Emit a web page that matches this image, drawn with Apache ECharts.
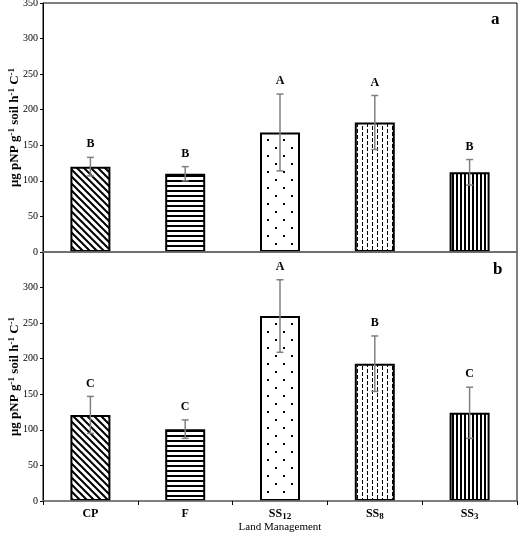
<!DOCTYPE html>
<html>
<head>
<meta charset="utf-8">
<script src="https://cdn.jsdelivr.net/npm/echarts@6/dist/echarts.min.js"></script>
<style>
html,body{margin:0;padding:0;background:#fff;}
#c{width:518px;height:540px;}
</style>
</head>
<body>
<div id="c"></div>
<script>
// ---- data ----
var categories = ['CP', 'F', 'SS12', 'SS8', 'SS3'];
var categoryLabels = ['CP', 'F', 'SS{sub|12}', 'SS{sub|8}', 'SS{sub|3}'];
var yTicks = [0, 50, 100, 150, 200, 250, 300, 350];
var meanA = [120, 110, 168, 182, 112];
var errA = [13, 10, 54, 38, 18];
var lettersA = ['B', 'B', 'A', 'A', 'B'];
var meanB = [121, 101, 260, 193, 124];
var errB = [26, 13, 51, 39, 36];
var lettersB = ['C', 'C', 'A', 'B', 'C'];
var panelLabels = ['a', 'b'];
var xTitle = 'Land Management';

// ---- patterns ----
function mk(w, h, draw) {
  var c = document.createElement('canvas');
  c.width = w; c.height = h;
  var g = c.getContext('2d');
  g.fillStyle = '#fff'; g.fillRect(0, 0, w, h);
  g.fillStyle = '#000'; g.strokeStyle = '#000';
  draw(g);
  return { image: c, repeat: 'repeat' };
}
var patterns = [
  mk(7, 7, function (g) { // diagonal "\"
    g.lineWidth = 2;
    g.beginPath();
    g.moveTo(-1, -1); g.lineTo(8, 8);
    g.moveTo(-8, -1); g.lineTo(1, 8);
    g.moveTo(6, -1); g.lineTo(15, 8);
    g.stroke();
  }),
  mk(5, 5, function (g) { g.fillRect(0, 0, 5, 2); }), // horizontal
  mk(16, 16, function (g) { g.fillRect(3, 3, 2, 2); g.fillRect(11, 11, 2, 2); }), // dots
  mk(10, 6, function (g) { g.fillRect(2, 0, 1, 4); g.fillRect(7, 3, 1, 3); g.fillRect(7, 0, 1, 1); }), // dashed vertical
  mk(4, 4, function (g) { g.fillRect(0, 0, 2, 4); }) // vertical
];

var serif = '"Liberation Serif", "Times New Roman", serif';

function barSeries(means, idx) {
  return {
    type: 'bar',
    xAxisIndex: idx, yAxisIndex: idx,
    barWidth: 40,
    data: means.map(function (v, i) {
      return { value: v, itemStyle: { color: patterns[i], borderColor: '#000', borderWidth: 2 } };
    }),
    z: 2
  };
}
function errSeries(means, errs, letters, idx) {
  return {
    type: 'custom',
    xAxisIndex: idx, yAxisIndex: idx,
    z: 5,
    data: means.map(function (v, i) { return [i, v, errs[i]]; }),
    renderItem: function (params, api) {
      var i = api.value(0), m = api.value(1), e = api.value(2);
      var top = api.coord([i, m + e]);
      var bot = api.coord([i, m - e]);
      var x = top[0], cw = 3.5;
      var st = { stroke: '#808080', lineWidth: 1.5 };
      return {
        type: 'group',
        children: [
          { type: 'line', shape: { x1: x, y1: top[1], x2: x, y2: bot[1] }, style: st },
          { type: 'line', shape: { x1: x - cw, y1: top[1], x2: x + cw, y2: top[1] }, style: st },
          { type: 'line', shape: { x1: x - cw, y1: bot[1], x2: x + cw, y2: bot[1] }, style: st },
          { type: 'text', x: x, y: top[1] - 13,
            style: { text: letters[params.dataIndex], fill: '#000', font: 'bold 12px ' + serif,
                     align: 'center', verticalAlign: 'middle' } }
        ]
      };
    }
  };
}

var yName = 'μg pNP g{s|-1} soil h{s|-1} C{s|-1}';
function yAxis(idx) {
  return {
    type: 'value', gridIndex: idx,
    min: yTicks[0], max: yTicks[yTicks.length - 1], interval: 50,
    name: yName, nameLocation: 'middle', nameGap: 20, nameMoveOverlap: false,
    nameTextStyle: {
      fontFamily: serif, fontWeight: 'bold', fontSize: 13, color: '#000', lineHeight: 16,
      rich: { s: { fontFamily: serif, fontWeight: 'bold', fontSize: 9, lineHeight: 9, verticalAlign: 'top', color: '#000' } }
    },
    axisLine: { show: true, lineStyle: { color: '#000', width: 1 } },
    axisTick: { show: true, length: 3, lineStyle: { color: '#000' } },
    axisLabel: { fontFamily: serif, fontSize: 10, color: '#000', margin: 5, showMaxLabel: idx === 0 },
    splitLine: { show: false }
  };
}

var chart = echarts.init(document.getElementById('c'));
chart.setOption({
  animation: false,
  backgroundColor: '#fff',
  grid: [
    { left: 43, right: 1, top: 3, height: 249, outerBoundsMode: 'none', containLabel: false,
      show: true, borderColor: '#000', borderWidth: 1, backgroundColor: 'transparent' },
    { left: 43, right: 1, top: 252, bottom: 39, outerBoundsMode: 'none', containLabel: false,
      show: true, borderColor: '#000', borderWidth: 1, backgroundColor: 'transparent' }
  ],
  xAxis: [
    { type: 'category', gridIndex: 0, data: categories, z: 6,
      axisLine: { show: true, lineStyle: { color: '#808080', width: 1.5 } },
      axisTick: { show: false }, axisLabel: { show: false } },
    { type: 'category', gridIndex: 1, data: categories, z: 6,
      name: xTitle, nameLocation: 'middle', nameGap: 21, nameMoveOverlap: false,
      nameTextStyle: { fontFamily: serif, fontSize: 11, color: '#000' },
      axisLine: { show: true, lineStyle: { color: '#808080', width: 1.5 } },
      axisTick: { show: true, length: 4, lineStyle: { color: '#000' } },
      axisLabel: {
        margin: 6, color: '#000', fontFamily: serif, fontWeight: 'bold', fontSize: 12, lineHeight: 14,
        formatter: function (v, i) { return categoryLabels[i]; },
        rich: { sub: { fontFamily: serif, fontSize: 9, lineHeight: 9, verticalAlign: 'bottom', color: '#000' } }
      } }
  ],
  yAxis: [yAxis(0), yAxis(1)],
  graphic: [
    { type: 'text', left: 491, top: 11, style: { text: panelLabels[0], font: 'bold 17px ' + serif, fill: '#000' } },
    { type: 'text', left: 493, top: 261, style: { text: panelLabels[1], font: 'bold 17px ' + serif, fill: '#000' } }
  ],
  series: [
    barSeries(meanA, 0), errSeries(meanA, errA, lettersA, 0),
    barSeries(meanB, 1), errSeries(meanB, errB, lettersB, 1)
  ]
});
</script>
</body>
</html>
